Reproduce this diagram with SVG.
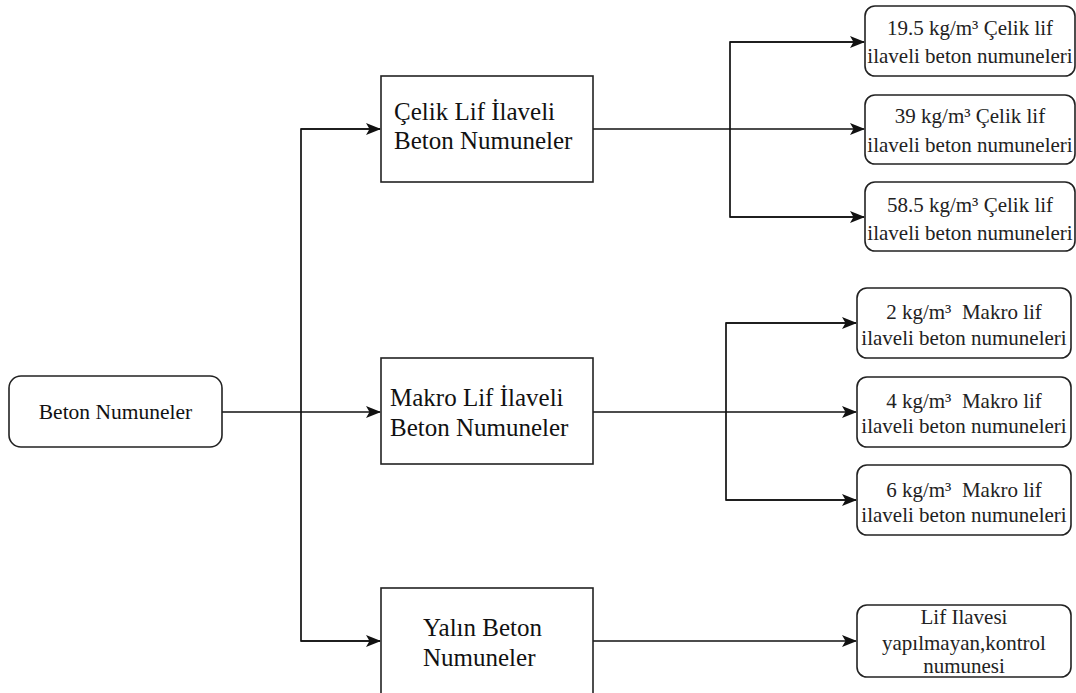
<svg xmlns="http://www.w3.org/2000/svg" width="1076" height="693" viewBox="0 0 1076 693">
  <style>
    .box { fill: #fff; stroke: #222; stroke-width: 1.6; }
    .wire { fill: none; stroke: #111; stroke-width: 1.7; }
    text { font-family: 'Liberation Serif', 'DejaVu Serif', serif; }
    .main { font-size: 25px; fill: #111; }
    .leaf { font-size: 21px; fill: #222; text-anchor: middle; }
  </style>
  <defs>
    <marker id="arrow" viewBox="0 0 15 12" refX="14" refY="6" markerWidth="15" markerHeight="12" markerUnits="userSpaceOnUse" orient="auto">
      <path d="M0,0 L15,6 L0,12 L3.5,6 Z" fill="#111"/>
    </marker>
  </defs>

  <rect width="1076" height="693" fill="#fff"/>

  <!-- connectors -->
  <g id="connectors">
    <!-- root to the three groups -->
    <line class="wire" x1="222" y1="412" x2="380" y2="412" marker-end="url(#arrow)"/>
    <path class="wire" d="M380,129 H301 V641 H380" />
    <line class="wire" x1="301" y1="129" x2="380" y2="129" marker-end="url(#arrow)"/>
    <line class="wire" x1="301" y1="641" x2="380" y2="641" marker-end="url(#arrow)"/>

    <!-- steel fibre branch -->
    <line class="wire" x1="593" y1="129" x2="864" y2="129" marker-end="url(#arrow)"/>
    <path class="wire" d="M864,42 H730 V217 H864"/>
    <line class="wire" x1="730" y1="42" x2="864" y2="42" marker-end="url(#arrow)"/>
    <line class="wire" x1="730" y1="217" x2="864" y2="217" marker-end="url(#arrow)"/>

    <!-- macro fibre branch -->
    <line class="wire" x1="593" y1="412" x2="856" y2="412" marker-end="url(#arrow)"/>
    <path class="wire" d="M856,323 H726 V500 H856"/>
    <line class="wire" x1="726" y1="323" x2="856" y2="323" marker-end="url(#arrow)"/>
    <line class="wire" x1="726" y1="500" x2="856" y2="500" marker-end="url(#arrow)"/>

    <!-- plain concrete branch -->
    <line class="wire" x1="593" y1="641" x2="856" y2="641" marker-end="url(#arrow)"/>
  </g>

  <!-- root -->
  <g id="beton-numuneler">
    <rect class="box" x="9" y="376" width="213" height="71" rx="12"/>
    <text class="main" x="115.5" y="419" text-anchor="middle" style="font-size:21.5px">Beton Numuneler</text>
  </g>

  <!-- groups -->
  <g id="celik-lif">
    <rect class="box" x="381" y="76" width="212" height="106"/>
    <text class="main" x="394" y="120">Çelik Lif İlaveli</text>
    <text class="main" x="394" y="149">Beton Numuneler</text>
  </g>
  <g id="makro-lif">
    <rect class="box" x="381" y="358" width="212" height="106"/>
    <text class="main" x="390" y="406">Makro Lif İlaveli</text>
    <text class="main" x="390" y="436">Beton Numuneler</text>
  </g>
  <g id="yalin-beton">
    <rect class="box" x="381" y="588" width="212" height="110"/>
    <text class="main" x="423" y="636">Yalın Beton</text>
    <text class="main" x="423" y="666">Numuneler</text>
  </g>

  <!-- steel fibre samples -->
  <g id="celik-19-5">
    <rect class="box" x="865" y="6" width="210" height="70" rx="10"/>
    <text class="leaf" x="970" y="35">19.5 kg/m³ Çelik lif</text>
    <text class="leaf" x="970" y="63">ilaveli beton numuneleri</text>
  </g>
  <g id="celik-39">
    <rect class="box" x="865" y="95" width="210" height="69" rx="10"/>
    <text class="leaf" x="970" y="123">39 kg/m³ Çelik lif</text>
    <text class="leaf" x="970" y="152">ilaveli beton numuneleri</text>
  </g>
  <g id="celik-58-5">
    <rect class="box" x="865" y="182" width="210" height="69" rx="10"/>
    <text class="leaf" x="970" y="212">58.5 kg/m³ Çelik lif</text>
    <text class="leaf" x="970" y="240">ilaveli beton numuneleri</text>
  </g>

  <!-- macro fibre samples -->
  <g id="makro-2">
    <rect class="box" x="857" y="288" width="214" height="70" rx="10"/>
    <text class="leaf" x="964" y="319" xml:space="preserve">2 kg/m³  Makro lif</text>
    <text class="leaf" x="964" y="345">ilaveli beton numuneleri</text>
  </g>
  <g id="makro-4">
    <rect class="box" x="857" y="377" width="214" height="70" rx="10"/>
    <text class="leaf" x="964" y="408" xml:space="preserve">4 kg/m³  Makro lif</text>
    <text class="leaf" x="964" y="433">ilaveli beton numuneleri</text>
  </g>
  <g id="makro-6">
    <rect class="box" x="857" y="465" width="214" height="70" rx="10"/>
    <text class="leaf" x="964" y="497" xml:space="preserve">6 kg/m³  Makro lif</text>
    <text class="leaf" x="964" y="522">ilaveli beton numuneleri</text>
  </g>

  <!-- control sample -->
  <g id="kontrol">
    <rect class="box" x="857" y="605" width="214" height="72" rx="10"/>
    <text class="leaf" x="964" y="624">Lif Ilavesi</text>
    <text class="leaf" x="964" y="650">yapılmayan,kontrol</text>
    <text class="leaf" x="964" y="673">numunesi</text>
  </g>
</svg>
